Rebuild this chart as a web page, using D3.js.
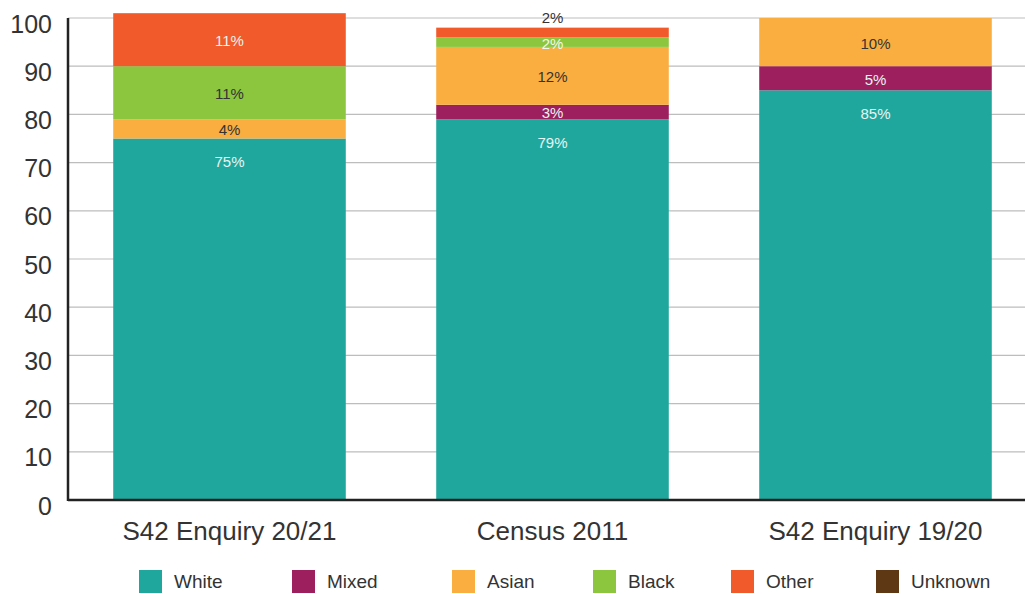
<!DOCTYPE html>
<html lang="en">
<head>
<meta charset="utf-8">
<style>
    body { margin: 0; background: #fff; }
    text { font-family: "Liberation Sans", Arial, sans-serif; }
    .grid { stroke: #bdbdbd; stroke-width: 1.2px; }
    .axis-line { stroke: #222; stroke-width: 2.5px; }
</style>
</head>
<body>
<svg width="1025" height="594"></svg>
<script src="https://d3js.org/d3.v7.min.js"></script>
<script>
    // data
    var categories = ["S42 Enquiry 20/21", "Census 2011", "S42 Enquiry 19/20"];
    var seriesNames = ["White", "Mixed", "Asian", "Black", "Other", "Unknown"];
    var white   = [75, 79, 85];
    var mixed   = [0, 3, 5];
    var asian   = [4, 12, 10];
    var black   = [11, 2, 0];
    var other   = [11, 2, 0];
    var unknown = [0, 0, 0];
    var yTicks = [0, 10, 20, 30, 40, 50, 60, 70, 80, 90, 100];

    var colors = {
        White: "#20a79d", Mixed: "#9e1f5e", Asian: "#fbae40",
        Black: "#8cc63f", Other: "#f15a2a", Unknown: "#5e3714"
    };
    var legendX = [139, 292, 452, 593, 731, 876];

    var rows = categories.map(function (c, i) {
        return {cat: c, White: white[i], Mixed: mixed[i], Asian: asian[i],
            Black: black[i], Other: other[i], Unknown: unknown[i]};
    });

    var svg = d3.select("svg"),
        width = +svg.attr("width"),
        plotLeft = 68, plotBottom = 500, plotTop = 18;

    var x = d3.scaleBand().domain(categories)
        .range([plotLeft, plotLeft + 3 * 323])
        .paddingInner(0.28).paddingOuter(0.14);
    var y = d3.scaleLinear().domain([0, 100]).range([plotBottom, plotTop]);

    // gridlines
    svg.append("g").selectAll("line").data(yTicks).enter().append("line")
        .attr("class", "grid")
        .attr("x1", plotLeft).attr("x2", width)
        .attr("y1", function (d) { return y(d); })
        .attr("y2", function (d) { return y(d); });

    svg.append("g").selectAll("text").data(yTicks).enter().append("text")
        .attr("x", 52)
        .attr("y", function (d) { return y(d) + 8; })
        .attr("text-anchor", "end")
        .attr("dominant-baseline", "middle")
        .attr("font-size", 25)
        .attr("fill", "#333")
        .text(function (d) { return d; });

    var stacked = d3.stack().keys(seriesNames)(rows);

    var layer = svg.append("g").selectAll("g").data(stacked).enter().append("g")
        .attr("fill", function (d) { return colors[d.key]; });

    layer.selectAll("rect").data(function (d) { return d; }).enter().append("rect")
        .attr("x", function (d) { return x(d.data.cat); })
        .attr("width", x.bandwidth())
        .attr("y", function (d) { return y(d[1]); })
        .attr("height", function (d) { return y(d[0]) - y(d[1]); });

    // value labels
    stacked.forEach(function (s) {
        s.forEach(function (d) {
            var v = d[1] - d[0];
            if (v <= 0) return;
            var ly, fill;
            var outside = s.key === "Other" && v < 5;
            if (s.key === "White") {
                ly = y(d[1]) + 25;
            } else if (outside) {
                ly = y(d[1]) - 9;
            } else {
                ly = (y(d[0]) + y(d[1])) / 2 + 2.5;
            }
            if (outside) fill = "#333";
            else if (s.key === "White" || s.key === "Mixed" || s.key === "Other") fill = "#e6f4f2";
            else if (s.key === "Black" && v < 5) fill = "#f2f8ea";
            else fill = "#333";
            svg.append("text")
                .attr("x", x(d.data.cat) + x.bandwidth() / 2)
                .attr("y", ly)
                .attr("text-anchor", "middle")
                .attr("dominant-baseline", "middle")
                .attr("font-size", 15)
                .attr("fill", fill)
                .text(v + "%");
        });
    });

    // axis lines
    svg.append("line").attr("class", "axis-line")
        .attr("x1", plotLeft).attr("x2", plotLeft).attr("y1", plotTop).attr("y2", plotBottom + 1);
    svg.append("line").attr("class", "axis-line")
        .attr("x1", plotLeft).attr("x2", width).attr("y1", plotBottom).attr("y2", plotBottom);

    // category labels
    svg.append("g").selectAll("text").data(categories).enter().append("text")
        .attr("x", function (d) { return x(d) + x.bandwidth() / 2; })
        .attr("y", 533)
        .attr("text-anchor", "middle")
        .attr("dominant-baseline", "middle")
        .attr("font-size", 26)
        .attr("fill", "#333")
        .text(function (d) { return d; });

    // legend
    var legend = svg.append("g").selectAll("g").data(seriesNames).enter().append("g")
        .attr("transform", function (d, i) { return "translate(" + legendX[i] + ",570)"; });
    legend.append("rect")
        .attr("width", 23).attr("height", 23)
        .attr("fill", function (d) { return colors[d]; });
    legend.append("text")
        .attr("x", 35).attr("y", 13)
        .attr("dominant-baseline", "middle")
        .attr("font-size", 19)
        .attr("fill", "#333")
        .text(function (d) { return d; });
</script>
</body>
</html>
